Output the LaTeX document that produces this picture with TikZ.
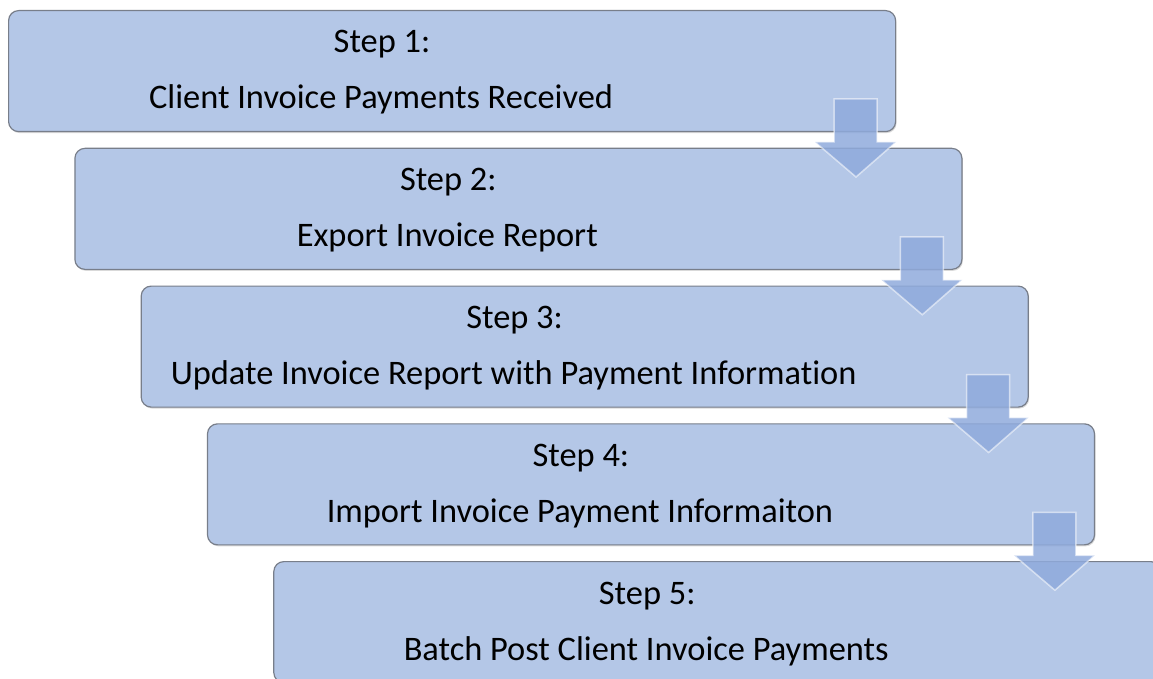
\documentclass[tikz,border=0pt]{standalone}
\usepackage{fontspec}
\setmainfont{Carlito}[RawFeature={-liga}]
\usetikzlibrary{calc,shadows}
\definecolor{boxfill}{RGB}{180,199,231}
\definecolor{boxline}{RGB}{120,126,138}
\definecolor{arrowfill}{RGB}{143,170,220}
\tikzset{
  stepbox/.style={draw=boxline, line width=1.2pt, fill=boxfill, rounded corners=10pt,
    minimum width=887pt, minimum height=121pt, anchor=north west, inner sep=0pt,
    drop shadow={shadow xshift=1pt, shadow yshift=-1.5pt, opacity=0.3}},
  steptext/.style={font=\fontsize{34.4}{40}\selectfont, anchor=base, inner sep=0pt, text=black},
  flowarrow/.style={fill=arrowfill, fill opacity=0.85, draw=white, draw opacity=0.55,
    line width=1.5pt, line join=miter}
}
\begin{document}
\begin{tikzpicture}[x=1pt,y=-1pt]
\useasboundingbox (0,0) rectangle (1153,679);
\clip (0,0) rectangle (1153,679);
% the five process steps, stepping down to the right
\foreach \i/\t in {1/Client Invoice Payments Received,
                   2/Export Invoice Report,
                   3/Update Invoice Report with Payment Information,
                   4/Import Invoice Payment Informaiton,
                   5/Batch Post Client Invoice Payments}{
  \node[stepbox] (s\i) at ({8+66.3*(\i-1)},{10+137.75*(\i-1)}) {};
  \node[steptext] (h\i) at ($(s\i.north west)+(374,43)$) {Step \i:};
  \node[steptext] (t\i) at ($(s\i.north west)+(373,99)$) {\t};
}
% block arrows linking each step to the next
\foreach \k in {1,2,3,4}{
  \begin{scope}[shift={(s\k.north west)}]
    \draw[flowarrow] (826,89) -- (869,89) -- (869,132) -- (888,132) -- (848,167)
      -- (807,132) -- (826,132) -- cycle;
  \end{scope}
}
\end{tikzpicture}
\end{document}
